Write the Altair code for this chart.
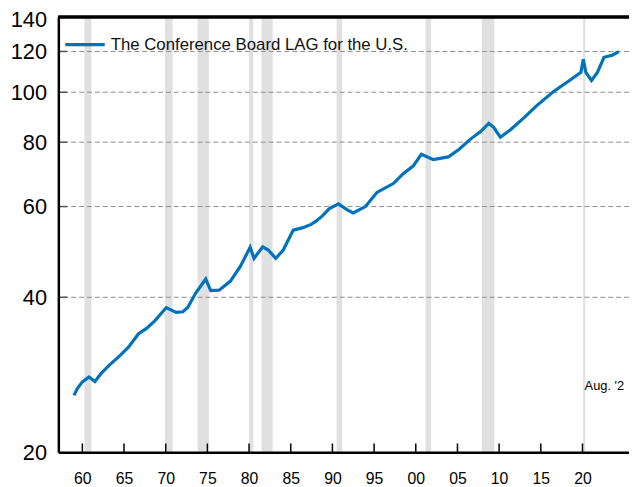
import altair as alt
import pandas as pd

# ---- data ----
years = [1959.0, 1959.4, 1960.0, 1960.8, 1961.5, 1962.37, 1963.3, 1964.35, 1965.53, 1966.72,
         1967.7, 1968.69, 1970.07, 1971.25, 1972.05, 1972.64, 1973.62, 1974.8, 1975.4, 1976.4,
         1977.77, 1978.95, 1980.13, 1980.6, 1981.64, 1982.3, 1983.2, 1984.1, 1985.3, 1986.46,
         1987.44, 1988.03, 1988.83, 1989.6, 1990.72, 1991.79, 1992.5, 1993.96, 1995.34, 1997.31,
         1998.49, 1999.68, 2000.67, 2002.1, 2003.9, 2005.2, 2006.6, 2007.78, 2008.76, 2009.35,
         2010.15, 2011.33, 2012.9, 2014.48, 2016.46, 2018.44, 2019.81, 2020.1, 2020.4, 2021.08,
         2021.79, 2022.58, 2023.56, 2024.36]
values = [25.8, 26.6, 27.4, 28.0, 27.45, 28.6, 29.6, 30.64, 32.0, 33.95,
          34.8, 36.0, 38.2, 37.4, 37.5, 38.2, 40.8, 43.4, 41.2, 41.3,
          43.0, 45.9, 50.0, 47.6, 50.1, 49.4, 47.6, 49.4, 54.0, 54.6,
          55.4, 56.2, 57.6, 59.4, 60.7, 59.1, 58.3, 60.0, 63.9, 66.5,
          69.5, 71.9, 75.8, 74.0, 74.9, 77.5, 81.2, 83.9, 87.0, 85.5,
          81.8, 84.5, 89.0, 94.1, 100.1, 105.4, 109.3, 115.9, 109.3, 105.4,
          109.3, 116.9, 118.0, 119.9]
series_name = "The Conference Board LAG for the U.S."

rec_start = [1960.25, 1969.92, 1973.83, 1980.0, 1981.5, 1990.5, 2001.17, 2007.92, 2020.08]
rec_end = [1961.08, 1970.83, 1975.17, 1980.5, 1982.83, 1991.17, 2001.83, 2009.42, 2020.33]

x_ticks = [1960, 1965, 1970, 1975, 1980, 1985, 1990, 1995, 2000, 2005, 2010, 2015, 2020]
y_labels = [20, 40, 60, 80, 100, 120, 140]
y_grid = [40, 60, 80, 100, 120]

note_text = "Aug. '2"
note_year = 2020.25
note_value = 26.9

# ---- tables ----
line_df = pd.DataFrame({"year": years, "value": values, "series": series_name})
rec_df = pd.DataFrame({"start": rec_start, "end": rec_end})
grid_df = pd.DataFrame({"g": y_grid})
xt_df = pd.DataFrame({"t": x_ticks})
note_df = pd.DataFrame({"t": [note_text]})

FONT = "Liberation Sans"
W, H = 578, 441
xscale = alt.Scale(domain=[1957.12, 2025.58], nice=False, zero=False)
yscale = alt.Scale(type="log", domain=[20, 140], nice=False)

xaxis = alt.Axis(values=x_ticks, labelExpr="substring(toString(datum.value), 2)",
                 title=None, grid=False, ticks=False, domainColor="black", domainWidth=2.5,
                 labelFont=FONT, labelFontSize=16, labelColor="black", labelPadding=19,
                 labelFlush=False, zindex=1)
yaxis = alt.Axis(values=y_labels, title=None, grid=False, ticks=False, domainColor="black",
                 domainWidth=2.5, labelFont=FONT, labelFontSize=22, labelColor="black",
                 labelPadding=12, labelFlush=False, zindex=1,
                 labelOffset={"condition": {"test": "datum.value == 140", "value": 3},
                              "value": 0})

bands = alt.Chart(rec_df).mark_rect(color="#e0e0e0").encode(
    x=alt.X("start:Q", scale=xscale, axis=xaxis),
    x2="end:Q",
)

grid = alt.Chart(grid_df).mark_rule(color="#8c8c8c", strokeWidth=1, strokeDash=[5, 3]).encode(
    y=alt.Y("g:Q", scale=yscale, axis=yaxis)
)

ytick = alt.Chart(grid_df).mark_rule(color="#555555", strokeWidth=1.5).encode(
    y=alt.Y("g:Q", scale=yscale),
    x=alt.value(0), x2=alt.value(9),
)

xtick = alt.Chart(xt_df).mark_rule(color="black", strokeWidth=1.5).encode(
    x=alt.X("t:Q", scale=xscale),
    y=alt.value(H - 9), y2=alt.value(H),
)

topline = alt.Chart(grid_df).mark_rule(color="black", strokeWidth=2.5).encode(
    y=alt.value(0)
)

line = alt.Chart(line_df).mark_line(strokeWidth=3.2).encode(
    x=alt.X("year:Q", scale=xscale),
    y=alt.Y("value:Q", scale=yscale),
    color=alt.Color("series:N", scale=alt.Scale(range=["#0072bc"]),
                    legend=alt.Legend(orient="none", legendX=5, legendY=6, title=None,
                                      symbolType="stroke", symbolSize=1600,
                                      symbolStrokeWidth=3.5, labelFont=FONT,
                                      labelFontSize=17, labelColor="#111111",
                                      labelLimit=0, padding=0, labelOffset=4)),
)

note = alt.Chart(note_df).mark_text(
    align="left", baseline="middle", font=FONT, fontSize=13, color="black"
).encode(
    x=alt.X(datum=note_year, scale=xscale),
    y=alt.Y(datum=note_value, scale=yscale),
    text="t:N",
)

chart = alt.layer(bands, grid, ytick, xtick, line, topline, note).properties(
    width=W, height=H,
    autosize=alt.AutoSizeParams(type="none"),
    padding={"left": 51, "top": 6, "right": 0, "bottom": 32},
).configure_view(stroke=None).configure(background="white")

chart.save("out.html", embed_options={"renderer": "svg", "actions": False})
